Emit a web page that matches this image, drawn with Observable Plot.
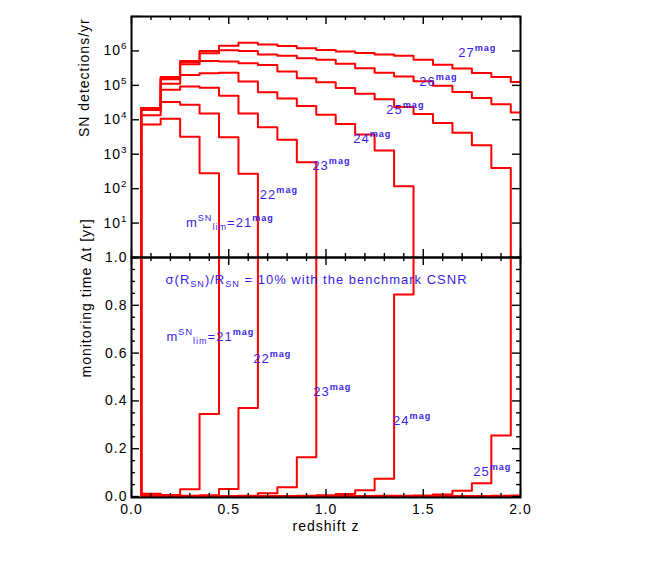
<!DOCTYPE html>
<html><head><meta charset="utf-8">
<script src="https://cdn.jsdelivr.net/npm/d3@7"></script>
<script src="https://cdn.jsdelivr.net/npm/@observablehq/plot@0.6"></script>
<style>
body{margin:0;background:#fff;}
#chart{position:relative;width:664px;height:566px;}
#chart svg{position:absolute;left:0;overflow:visible;}
</style></head><body><div id="chart"></div>
<script>
// ---- data ----
const mags = [21, 22, 23, 24, 25, 26, 27];
const binCenters = [0.1,0.2,0.3,0.4,0.5,0.6,0.7,0.8,0.9,1.0,1.1,1.2,1.3,1.4,1.5,1.6,1.7,1.8,1.9,2.0];
const binWidth = 0.1;

// SN detections per yr in each redshift bin
const det21 = [7240, 10700, 3240, 282];
const det22 = [13500, 33100, 27500, 15100, 3090, 269];
const det23 = [19100, 74100, 93300, 85100, 50100, 15100, 6030, 2630, 589];
const det24 = [21900, 112000, 200000, 224000, 234000, 129000, 63100, 41700, 25100, 14100, 7590, 3720, 1290, 117];
const det25 = [21900, 151000, 407000, 513000, 490000, 437000, 389000, 251000, 162000, 123000, 83200, 57500, 39800, 23400, 14800, 8130, 4170, 1820, 398];
const det26 = [21900, 162000, 479000, 851000, 1050000, 1000000, 794000, 724000, 617000, 550000, 427000, 316000, 234000, 182000, 132000, 97700, 64600, 42700, 28200, 16200];
const det27 = [21900, 174000, 513000, 1000000, 1410000, 1740000, 1550000, 1380000, 1200000, 1070000, 955000, 871000, 794000, 724000, 550000, 398000, 309000, 229000, 174000, 126000];

// monitoring time (yr) in each redshift bin
const mon21 = [0.012, 0.006, 0.030, 0.345];
const mon22 = [0.004, 0.002, 0.003, 0.005, 0.032, 0.370];
const mon23 = [0.003, 0.001, 0.001, 0.002, 0.002, 0.003, 0.014, 0.039, 0.164];
const mon24 = [0.003, 0.001, 0.001, 0.001, 0.001, 0.001, 0.002, 0.002, 0.003, 0.005, 0.011, 0.026, 0.074, 0.845];
const mon25 = [0.002, 0.001, 0.001, 0.001, 0.001, 0.001, 0.001, 0.001, 0.001, 0.002, 0.002, 0.002, 0.003, 0.003, 0.004, 0.009, 0.024, 0.056, 0.255];
const mon26 = [0.002, 0.001, 0.001, 0.001, 0.001, 0.001, 0.001, 0.001, 0.001, 0.001, 0.001, 0.001, 0.001, 0.001, 0.001, 0.002, 0.002, 0.002, 0.003, 0.004];
const mon27 = [0.002, 0.001, 0.001, 0.001, 0.001, 0.001, 0.001, 0.001, 0.001, 0.001, 0.001, 0.001, 0.001, 0.001, 0.001, 0.001, 0.001, 0.001, 0.002, 0.002];

// ticks
const xTickLabels = [0, 0.5, 1.0, 1.5, 2.0];
const detDecades = [1, 1e1, 1e2, 1e3, 1e4, 1e5, 1e6, 1e7];
const detTickLabels = [1e1, 1e2, 1e3, 1e4, 1e5, 1e6];
const monTickLabels = [0, 0.2, 0.4, 0.6, 0.8, 1.0];

// annotation labels
const topLabels = [
  {text: "27^{mag}", z: 1.68, v: 10 ** 5.94},
  {text: "26^{mag}", z: 1.48, v: 10 ** 5.11},
  {text: "25^{mag}", z: 1.31, v: 10 ** 4.30},
  {text: "24^{mag}", z: 1.14, v: 10 ** 3.46},
  {text: "23^{mag}", z: 0.93, v: 10 ** 2.65},
  {text: "22^{mag}", z: 0.66, v: 10 ** 1.82},
  {text: "m^{SN}_{lim}=21^{mag}", z: 0.28, v: 10 ** 1.01}
];
const bottomLabels = [
  {text: "σ(R_{SN})/R_{SN} = 10% with the benchmark CSNR", z: 0.175, v: 0.908},
  {text: "m^{SN}_{lim}=21^{mag}", z: 0.18, v: 0.67},
  {text: "22^{mag}", z: 0.626, v: 0.577},
  {text: "23^{mag}", z: 0.934, v: 0.436},
  {text: "24^{mag}", z: 1.345, v: 0.318},
  {text: "25^{mag}", z: 1.757, v: 0.103}
];

// ---- build ----
const detSeries = [det21, det22, det23, det24, det25, det26, det27];
const monSeries = [mon21, mon22, mon23, mon24, mon25, mon26, mon27];

function steps(mag, vals, outside) {
  const pts = [{mag, x: binCenters[0] - binWidth / 2, y: outside}];
  vals.forEach((v, i) => {
    pts.push({mag, x: binCenters[i] - binWidth / 2, y: v});
    pts.push({mag, x: binCenters[i] + binWidth / 2, y: v});
  });
  pts.push({mag, x: binCenters[vals.length - 1] + binWidth / 2, y: outside});
  return pts;
}
const detSteps = mags.flatMap((m, i) => steps(m, detSeries[i], 1e-2));
const monSteps = mags.flatMap((m, i) => steps(m, monSeries[i], 3));

const W = 664, ML = 131, MR = 144;
const PW = W - ML - MR;
const FONT = "'Liberation Sans', Arial, Helvetica, sans-serif";
const RED = "#ff0000", BLUE = "#3a1de6";
const xMinor = d3.ticks(0, 2, 20);
const monMinor = d3.ticks(0, 1, 20);
const STYLE = {fontFamily: FONT, fontSize: "14px", background: "transparent", color: "black", letterSpacing: "1px"};

function ticksFor(H, xs, ys, isMajX, isMajY) {
  const marks = [];
  for (const [sel, len] of [[x => isMajX(x), 8], [x => !isMajX(x), 4]]) {
    const d = xs.filter(sel);
    marks.push(Plot.tickX(d, {x: v => v, insetTop: H - len, stroke: "black", strokeWidth: 1.4}));
    marks.push(Plot.tickX(d, {x: v => v, insetBottom: H - len, stroke: "black", strokeWidth: 1.4}));
  }
  for (const [sel, len] of [[y => isMajY(y), 8], [y => !isMajY(y), 4]]) {
    const d = ys.filter(sel);
    marks.push(Plot.tickY(d, {y: v => v, insetRight: PW - len, stroke: "black", strokeWidth: 1.4}));
    marks.push(Plot.tickY(d, {y: v => v, insetLeft: PW - len, stroke: "black", strokeWidth: 1.4}));
  }
  return marks;
}
const isMajX = x => Math.abs(x * 2 - Math.round(x * 2)) < 1e-6;

const topPlot = Plot.plot({
  width: W, height: 257, marginLeft: ML, marginRight: MR, marginTop: 16, marginBottom: 0,
  style: STYLE,
  x: {domain: [0, 2], axis: null},
  y: {type: "log", domain: [1, 1e7], axis: null},
  marks: [
    Plot.line(detSteps, {x: "x", y: "y", z: "mag", stroke: RED, strokeWidth: 2, clip: true}),
    ...ticksFor(241, xMinor, detDecades, isMajX, () => true),
    Plot.axisY(detTickLabels, {tickSize: 0, tickPadding: 4, fontSize: 14, label: null,
      tickFormat: d => `10^{${Math.round(Math.log10(d))}}`}),
    Plot.text(topLabels, {x: "z", y: "v", text: "text", textAnchor: "start", lineAnchor: "middle",
      fill: BLUE, fontSize: 13}),
    Plot.text(["SN detections/yr"], {text: d => d, frameAnchor: "left", rotate: -90, dx: -47, fontSize: 14}),
    Plot.frame({stroke: "black", strokeWidth: 2})
  ]
});

const bottomPlot = Plot.plot({
  width: W, height: 309, marginLeft: ML, marginRight: MR, marginTop: 0, marginBottom: 69,
  style: STYLE,
  x: {domain: [0, 2], axis: null},
  y: {domain: [-0.004, 1.0], axis: null},
  marks: [
    Plot.line(monSteps, {x: "x", y: "y", z: "mag", stroke: RED, strokeWidth: 2, clip: true}),
    ...ticksFor(240, xMinor, monMinor, isMajX, y => Math.abs(y * 5 - Math.round(y * 5)) < 1e-6),
    Plot.axisY(monTickLabels, {tickSize: 0, tickPadding: 4, fontSize: 14, label: null, tickFormat: d3.format(".1f")}),
    Plot.axisX(xTickLabels, {tickSize: 0, tickPadding: 7, fontSize: 14, label: null, tickFormat: d3.format(".1f")}),
    Plot.text(bottomLabels, {x: "z", y: "v", text: "text", textAnchor: "start", lineAnchor: "middle",
      fill: BLUE, fontSize: 13}),
    Plot.text(["monitoring time Δt [yr]"], {text: d => d, frameAnchor: "left", rotate: -90, dx: -45, fontSize: 14}),
    Plot.text(["redshift z"], {text: d => d, frameAnchor: "bottom", dy: 33, fontSize: 14}),
    Plot.frame({stroke: "black", strokeWidth: 2})
  ]
});

// rich text: ^{..} superscript, _{..} subscript
const NS = "http://www.w3.org/2000/svg";
function richify(svg) {
  svg.querySelectorAll("text").forEach(t => {
    const s = t.textContent;
    if (!/[\^_]\{/.test(s)) return;
    t.textContent = "";
    const re = /([\^_])\{([^}]*)\}|([^\^_]+)/g;
    let m, shift = 0;
    while ((m = re.exec(s))) {
      const sp = document.createElementNS(NS, "tspan");
      let target = 0;
      if (m[1]) {
        target = m[1] === "^" ? -6 : 3;
        sp.setAttribute("font-size", "0.7em");
        if (m[2] === "mag") sp.setAttribute("font-weight", "bold");
        sp.textContent = m[2];
      } else sp.textContent = m[3];
      sp.setAttribute("dy", target - shift);
      shift = target;
      t.appendChild(sp);
    }
  });
}
richify(topPlot); richify(bottomPlot);

const chart = document.getElementById("chart");
topPlot.style.top = "0px";
bottomPlot.style.top = "257px";
chart.appendChild(topPlot);
chart.appendChild(bottomPlot);
</script></body></html>
